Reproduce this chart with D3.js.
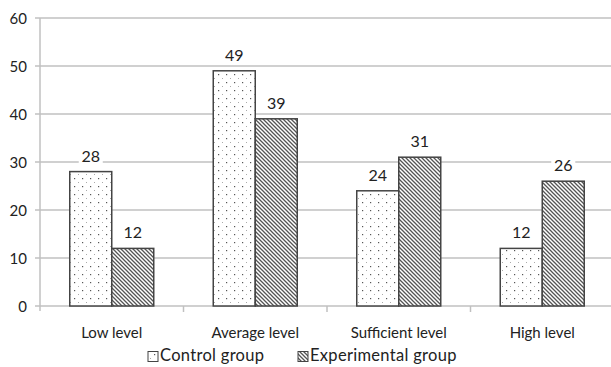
<!DOCTYPE html>
<html><head><meta charset="utf-8">
<script src="https://cdn.jsdelivr.net/npm/d3@7/dist/d3.min.js"></script>
<style>body{margin:0;background:#fff}svg{display:block}</style>
</head><body>
<svg id="c" width="611" height="367"></svg>
<script>
const categories = ["Low level", "Average level", "Sufficient level", "High level"];
const seriesNames = ["Control group", "Experimental group"];
const control = [28, 49, 24, 12];
const experimental = [12, 39, 31, 26];
const yTicks = [0, 10, 20, 30, 40, 50, 60];

(function () {
const svg = d3.select("#c");
const font = "Lato, 'Open Sans', sans-serif";
const mLeft = 40, mRight = 614, mTop = 18, mBottom = 306;

const defs = svg.append("defs");
const pd = defs.append("pattern").attr("id", "dots").attr("patternUnits", "userSpaceOnUse")
  .attr("width", 8).attr("height", 8);
pd.append("rect").attr("width", 8).attr("height", 8).attr("fill", "#fff");
pd.append("rect").attr("x", 2).attr("y", 2).attr("width", 1.2).attr("height", 1.2).attr("fill", "#555");
pd.append("rect").attr("x", 6).attr("y", 6).attr("width", 1).attr("height", 1).attr("fill", "#aaa");
const ph = defs.append("pattern").attr("id", "hatch").attr("patternUnits", "userSpaceOnUse")
  .attr("width", 4).attr("height", 4);
ph.append("rect").attr("width", 4).attr("height", 4).attr("fill", "#fff");
ph.append("path").attr("d", "M-1,-1 L5,5 M-1,3 L1,5 M3,-1 L5,1").attr("stroke", "#555").attr("stroke-width", 1.3);

const x = d3.scaleBand().domain(categories).range([mLeft, mRight]);
const y = d3.scaleLinear().domain([0, 60]).range([mBottom, mTop]);
const bw = 42;

svg.append("g").selectAll("line").data(yTicks).join("line")
  .attr("x1", mLeft - 5).attr("x2", 611).attr("y1", d => y(d)).attr("y2", d => y(d))
  .attr("stroke", "#c0c0c0").attr("stroke-width", 1.5);
svg.append("line").attr("x1", mLeft).attr("x2", mLeft).attr("y1", mTop).attr("y2", mBottom + 5)
  .attr("stroke", "#c0c0c0").attr("stroke-width", 1.5);
svg.append("g").selectAll("line").data(categories.slice(1)).join("line")
  .attr("x1", d => x(d)).attr("x2", d => x(d)).attr("y1", mBottom).attr("y2", mBottom + 6)
  .attr("stroke", "#c0c0c0").attr("stroke-width", 1.5);
svg.append("g").selectAll("text").data(yTicks).join("text")
  .attr("x", 27).attr("y", d => y(d) + 5.5).attr("text-anchor", "end")
  .attr("font-family", font).attr("font-size", 15).attr("fill", "#222").text(d => d);
svg.append("g").selectAll("text").data(categories).join("text")
  .attr("x", d => x(d) + x.bandwidth() / 2).attr("y", 337.5).attr("text-anchor", "middle")
  .attr("font-family", font).attr("font-size", 15).attr("fill", "#222").text(d => d);

const series = [
  { name: seriesNames[0], values: control, fill: "url(#dots)", off: -bw },
  { name: seriesNames[1], values: experimental, fill: "url(#hatch)", off: 0 }
];
series.forEach(s => {
  const g = svg.append("g");
  g.selectAll("rect").data(categories).join("rect")
    .attr("x", (d) => x(d) + x.bandwidth() / 2 + s.off)
    .attr("y", (d, i) => y(s.values[i]))
    .attr("width", bw)
    .attr("height", (d, i) => mBottom - y(s.values[i]))
    .attr("fill", s.fill).attr("stroke", "#444").attr("stroke-width", 1.5);
});
series.forEach(s => {
  const g = svg.append("g");
  categories.forEach((c, i) => {
    const cx = x(c) + x.bandwidth() / 2 + s.off + bw / 2;
    const by = y(s.values[i]) - 10;
    g.append("rect").attr("x", cx - 12).attr("y", by - 14).attr("width", 24).attr("height", 18).attr("fill", "#fff");
    g.append("text").attr("x", cx).attr("y", by).attr("text-anchor", "middle")
      .attr("font-family", font).attr("font-size", 16).attr("fill", "#222").text(s.values[i]);
  });
});
const leg = svg.append("g");
const legX = [148, 298];
series.forEach((s, i) => {
  leg.append("rect").attr("x", legX[i]).attr("y", 351.5).attr("width", 10).attr("height", 10)
    .attr("fill", s.fill).attr("stroke", "#444").attr("stroke-width", 1);
  leg.append("text").attr("x", legX[i] + 12).attr("y", 361).attr("font-family", font)
    .attr("font-size", 16.5).attr("letter-spacing", 0.3).attr("fill", "#222").text(s.name);
});
})();
</script>
</body></html>
